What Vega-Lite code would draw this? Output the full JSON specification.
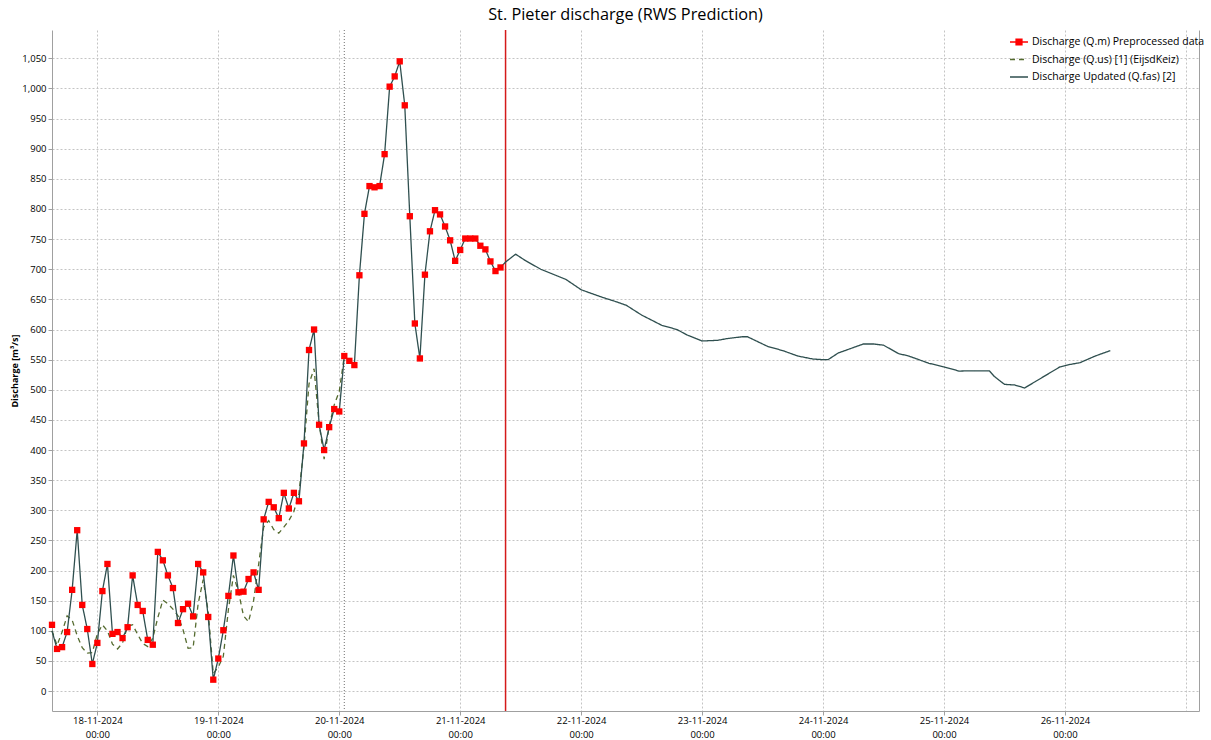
{
  "$schema": "https://vega.github.io/schema/vega-lite/v6.json",
  "width": 1147,
  "height": 681,
  "autosize": "none",
  "padding": {"left": 52, "top": 30, "right": 12, "bottom": 29},
  "background": "white",
  "title": {"text": "St. Pieter discharge (RWS Prediction)", "font": "Open Sans", "fontSize": 16.3, "fontWeight": "normal", "color": "#000000", "anchor": "middle", "frame": "group", "offset": 6},
  "config": {"view": {"stroke": null}},
  "resolve": {"axis": {"y": "independent"}},
  "datasets": {
    "qm": [
      {"t": "2024-11-17T15:00Z", "v": 110}, {"t": "2024-11-17T16:00Z", "v": 70}, {"t": "2024-11-17T17:00Z", "v": 73}, {"t": "2024-11-17T18:00Z", "v": 98}, {"t": "2024-11-17T19:00Z", "v": 168}, {"t": "2024-11-17T20:00Z", "v": 267}, {"t": "2024-11-17T21:00Z", "v": 143}, {"t": "2024-11-17T22:00Z", "v": 103}, {"t": "2024-11-17T23:00Z", "v": 45},
      {"t": "2024-11-18T00:00Z", "v": 80}, {"t": "2024-11-18T01:00Z", "v": 166}, {"t": "2024-11-18T02:00Z", "v": 211}, {"t": "2024-11-18T03:00Z", "v": 95}, {"t": "2024-11-18T04:00Z", "v": 98}, {"t": "2024-11-18T05:00Z", "v": 88}, {"t": "2024-11-18T06:00Z", "v": 106}, {"t": "2024-11-18T07:00Z", "v": 192}, {"t": "2024-11-18T08:00Z", "v": 143}, {"t": "2024-11-18T09:00Z", "v": 133}, {"t": "2024-11-18T10:00Z", "v": 85}, {"t": "2024-11-18T11:00Z", "v": 77}, {"t": "2024-11-18T12:00Z", "v": 231}, {"t": "2024-11-18T13:00Z", "v": 217}, {"t": "2024-11-18T14:00Z", "v": 192}, {"t": "2024-11-18T15:00Z", "v": 171}, {"t": "2024-11-18T16:00Z", "v": 113}, {"t": "2024-11-18T17:00Z", "v": 136}, {"t": "2024-11-18T18:00Z", "v": 145}, {"t": "2024-11-18T19:00Z", "v": 124}, {"t": "2024-11-18T20:00Z", "v": 211}, {"t": "2024-11-18T21:00Z", "v": 197}, {"t": "2024-11-18T22:00Z", "v": 123}, {"t": "2024-11-18T23:00Z", "v": 19},
      {"t": "2024-11-19T00:00Z", "v": 54}, {"t": "2024-11-19T01:00Z", "v": 101}, {"t": "2024-11-19T02:00Z", "v": 158}, {"t": "2024-11-19T03:00Z", "v": 225}, {"t": "2024-11-19T04:00Z", "v": 164}, {"t": "2024-11-19T05:00Z", "v": 165}, {"t": "2024-11-19T06:00Z", "v": 186}, {"t": "2024-11-19T07:00Z", "v": 197}, {"t": "2024-11-19T08:00Z", "v": 168}, {"t": "2024-11-19T09:00Z", "v": 285}, {"t": "2024-11-19T10:00Z", "v": 314}, {"t": "2024-11-19T11:00Z", "v": 305}, {"t": "2024-11-19T12:00Z", "v": 287}, {"t": "2024-11-19T13:00Z", "v": 329}, {"t": "2024-11-19T14:00Z", "v": 303}, {"t": "2024-11-19T15:00Z", "v": 329}, {"t": "2024-11-19T16:00Z", "v": 315}, {"t": "2024-11-19T17:00Z", "v": 411}, {"t": "2024-11-19T18:00Z", "v": 566}, {"t": "2024-11-19T19:00Z", "v": 600}, {"t": "2024-11-19T20:00Z", "v": 442}, {"t": "2024-11-19T21:00Z", "v": 400}, {"t": "2024-11-19T22:00Z", "v": 438}, {"t": "2024-11-19T23:00Z", "v": 468},
      {"t": "2024-11-20T00:00Z", "v": 464}, {"t": "2024-11-20T01:00Z", "v": 556}, {"t": "2024-11-20T02:00Z", "v": 548}, {"t": "2024-11-20T03:00Z", "v": 541}, {"t": "2024-11-20T04:00Z", "v": 690}, {"t": "2024-11-20T05:00Z", "v": 792}, {"t": "2024-11-20T06:00Z", "v": 838}, {"t": "2024-11-20T07:00Z", "v": 836}, {"t": "2024-11-20T08:00Z", "v": 838}, {"t": "2024-11-20T09:00Z", "v": 891}, {"t": "2024-11-20T10:00Z", "v": 1003}, {"t": "2024-11-20T11:00Z", "v": 1020}, {"t": "2024-11-20T12:00Z", "v": 1045}, {"t": "2024-11-20T13:00Z", "v": 972}, {"t": "2024-11-20T14:00Z", "v": 788}, {"t": "2024-11-20T15:00Z", "v": 610}, {"t": "2024-11-20T16:00Z", "v": 552}, {"t": "2024-11-20T17:00Z", "v": 691}, {"t": "2024-11-20T18:00Z", "v": 763}, {"t": "2024-11-20T19:00Z", "v": 798}, {"t": "2024-11-20T20:00Z", "v": 791}, {"t": "2024-11-20T21:00Z", "v": 771}, {"t": "2024-11-20T22:00Z", "v": 748}, {"t": "2024-11-20T23:00Z", "v": 714},
      {"t": "2024-11-21T00:00Z", "v": 732}, {"t": "2024-11-21T01:00Z", "v": 751}, {"t": "2024-11-21T02:00Z", "v": 751}, {"t": "2024-11-21T03:00Z", "v": 751}, {"t": "2024-11-21T04:00Z", "v": 739}, {"t": "2024-11-21T05:00Z", "v": 733}, {"t": "2024-11-21T06:00Z", "v": 713}, {"t": "2024-11-21T07:00Z", "v": 697}, {"t": "2024-11-21T08:00Z", "v": 703}
    ],
    "lines": [
      {"t": "2024-11-17T15:00Z", "s": "Q.us", "v": 100}, {"t": "2024-11-17T16:00Z", "s": "Q.us", "v": 76}, {"t": "2024-11-17T17:00Z", "s": "Q.us", "v": 98}, {"t": "2024-11-17T18:00Z", "s": "Q.us", "v": 125}, {"t": "2024-11-17T19:00Z", "s": "Q.us", "v": 118}, {"t": "2024-11-17T20:00Z", "s": "Q.us", "v": 92}, {"t": "2024-11-17T21:00Z", "s": "Q.us", "v": 72}, {"t": "2024-11-17T22:00Z", "s": "Q.us", "v": 63}, {"t": "2024-11-17T23:00Z", "s": "Q.us", "v": 64},
      {"t": "2024-11-18T00:00Z", "s": "Q.us", "v": 95}, {"t": "2024-11-18T01:00Z", "s": "Q.us", "v": 110}, {"t": "2024-11-18T02:00Z", "s": "Q.us", "v": 100}, {"t": "2024-11-18T03:00Z", "s": "Q.us", "v": 78}, {"t": "2024-11-18T04:00Z", "s": "Q.us", "v": 70}, {"t": "2024-11-18T05:00Z", "s": "Q.us", "v": 80}, {"t": "2024-11-18T06:00Z", "s": "Q.us", "v": 108}, {"t": "2024-11-18T07:00Z", "s": "Q.us", "v": 110}, {"t": "2024-11-18T08:00Z", "s": "Q.us", "v": 94}, {"t": "2024-11-18T09:00Z", "s": "Q.us", "v": 79}, {"t": "2024-11-18T10:00Z", "s": "Q.us", "v": 74}, {"t": "2024-11-18T11:00Z", "s": "Q.us", "v": 88}, {"t": "2024-11-18T12:00Z", "s": "Q.us", "v": 122}, {"t": "2024-11-18T13:00Z", "s": "Q.us", "v": 151}, {"t": "2024-11-18T14:00Z", "s": "Q.us", "v": 145}, {"t": "2024-11-18T15:00Z", "s": "Q.us", "v": 136}, {"t": "2024-11-18T16:00Z", "s": "Q.us", "v": 125}, {"t": "2024-11-18T17:00Z", "s": "Q.us", "v": 102}, {"t": "2024-11-18T18:00Z", "s": "Q.us", "v": 71}, {"t": "2024-11-18T19:00Z", "s": "Q.us", "v": 72}, {"t": "2024-11-18T20:00Z", "s": "Q.us", "v": 145}, {"t": "2024-11-18T21:00Z", "s": "Q.us", "v": 185}, {"t": "2024-11-18T22:00Z", "s": "Q.us", "v": 132}, {"t": "2024-11-18T23:00Z", "s": "Q.us", "v": 29},
      {"t": "2024-11-19T00:00Z", "s": "Q.us", "v": 40}, {"t": "2024-11-19T01:00Z", "s": "Q.us", "v": 58}, {"t": "2024-11-19T02:00Z", "s": "Q.us", "v": 135}, {"t": "2024-11-19T03:00Z", "s": "Q.us", "v": 192}, {"t": "2024-11-19T04:00Z", "s": "Q.us", "v": 165}, {"t": "2024-11-19T05:00Z", "s": "Q.us", "v": 125}, {"t": "2024-11-19T06:00Z", "s": "Q.us", "v": 115}, {"t": "2024-11-19T07:00Z", "s": "Q.us", "v": 150}, {"t": "2024-11-19T08:00Z", "s": "Q.us", "v": 210}, {"t": "2024-11-19T09:00Z", "s": "Q.us", "v": 272}, {"t": "2024-11-19T10:00Z", "s": "Q.us", "v": 283}, {"t": "2024-11-19T11:00Z", "s": "Q.us", "v": 268}, {"t": "2024-11-19T12:00Z", "s": "Q.us", "v": 262}, {"t": "2024-11-19T13:00Z", "s": "Q.us", "v": 272}, {"t": "2024-11-19T14:00Z", "s": "Q.us", "v": 283}, {"t": "2024-11-19T15:00Z", "s": "Q.us", "v": 298}, {"t": "2024-11-19T16:00Z", "s": "Q.us", "v": 328}, {"t": "2024-11-19T17:00Z", "s": "Q.us", "v": 405}, {"t": "2024-11-19T18:00Z", "s": "Q.us", "v": 510}, {"t": "2024-11-19T19:00Z", "s": "Q.us", "v": 535}, {"t": "2024-11-19T20:00Z", "s": "Q.us", "v": 445}, {"t": "2024-11-19T21:00Z", "s": "Q.us", "v": 385}, {"t": "2024-11-19T22:00Z", "s": "Q.us", "v": 440}, {"t": "2024-11-19T23:00Z", "s": "Q.us", "v": 475},
      {"t": "2024-11-20T00:00Z", "s": "Q.us", "v": 497}, {"t": "2024-11-20T01:00Z", "s": "Q.us", "v": 556},
      {"t": "2024-11-17T15:00Z", "s": "Q.fas", "v": 100}, {"t": "2024-11-17T16:00Z", "s": "Q.fas", "v": 70}, {"t": "2024-11-17T17:00Z", "s": "Q.fas", "v": 73}, {"t": "2024-11-17T18:00Z", "s": "Q.fas", "v": 98}, {"t": "2024-11-17T19:00Z", "s": "Q.fas", "v": 168}, {"t": "2024-11-17T20:00Z", "s": "Q.fas", "v": 267}, {"t": "2024-11-17T21:00Z", "s": "Q.fas", "v": 143}, {"t": "2024-11-17T22:00Z", "s": "Q.fas", "v": 103}, {"t": "2024-11-17T23:00Z", "s": "Q.fas", "v": 45},
      {"t": "2024-11-18T00:00Z", "s": "Q.fas", "v": 80}, {"t": "2024-11-18T01:00Z", "s": "Q.fas", "v": 166}, {"t": "2024-11-18T02:00Z", "s": "Q.fas", "v": 211}, {"t": "2024-11-18T03:00Z", "s": "Q.fas", "v": 95}, {"t": "2024-11-18T04:00Z", "s": "Q.fas", "v": 98}, {"t": "2024-11-18T05:00Z", "s": "Q.fas", "v": 88}, {"t": "2024-11-18T06:00Z", "s": "Q.fas", "v": 106}, {"t": "2024-11-18T07:00Z", "s": "Q.fas", "v": 192}, {"t": "2024-11-18T08:00Z", "s": "Q.fas", "v": 143}, {"t": "2024-11-18T09:00Z", "s": "Q.fas", "v": 133}, {"t": "2024-11-18T10:00Z", "s": "Q.fas", "v": 85}, {"t": "2024-11-18T11:00Z", "s": "Q.fas", "v": 77}, {"t": "2024-11-18T12:00Z", "s": "Q.fas", "v": 231}, {"t": "2024-11-18T13:00Z", "s": "Q.fas", "v": 217}, {"t": "2024-11-18T14:00Z", "s": "Q.fas", "v": 192}, {"t": "2024-11-18T15:00Z", "s": "Q.fas", "v": 171}, {"t": "2024-11-18T16:00Z", "s": "Q.fas", "v": 113}, {"t": "2024-11-18T17:00Z", "s": "Q.fas", "v": 136}, {"t": "2024-11-18T18:00Z", "s": "Q.fas", "v": 145}, {"t": "2024-11-18T19:00Z", "s": "Q.fas", "v": 124}, {"t": "2024-11-18T20:00Z", "s": "Q.fas", "v": 211}, {"t": "2024-11-18T21:00Z", "s": "Q.fas", "v": 197}, {"t": "2024-11-18T22:00Z", "s": "Q.fas", "v": 123}, {"t": "2024-11-18T23:00Z", "s": "Q.fas", "v": 19},
      {"t": "2024-11-19T00:00Z", "s": "Q.fas", "v": 54}, {"t": "2024-11-19T01:00Z", "s": "Q.fas", "v": 101}, {"t": "2024-11-19T02:00Z", "s": "Q.fas", "v": 158}, {"t": "2024-11-19T03:00Z", "s": "Q.fas", "v": 225}, {"t": "2024-11-19T04:00Z", "s": "Q.fas", "v": 164}, {"t": "2024-11-19T05:00Z", "s": "Q.fas", "v": 165}, {"t": "2024-11-19T06:00Z", "s": "Q.fas", "v": 186}, {"t": "2024-11-19T07:00Z", "s": "Q.fas", "v": 197}, {"t": "2024-11-19T08:00Z", "s": "Q.fas", "v": 168}, {"t": "2024-11-19T09:00Z", "s": "Q.fas", "v": 285}, {"t": "2024-11-19T10:00Z", "s": "Q.fas", "v": 314}, {"t": "2024-11-19T11:00Z", "s": "Q.fas", "v": 305}, {"t": "2024-11-19T12:00Z", "s": "Q.fas", "v": 287}, {"t": "2024-11-19T13:00Z", "s": "Q.fas", "v": 329}, {"t": "2024-11-19T14:00Z", "s": "Q.fas", "v": 303}, {"t": "2024-11-19T15:00Z", "s": "Q.fas", "v": 329}, {"t": "2024-11-19T16:00Z", "s": "Q.fas", "v": 315}, {"t": "2024-11-19T17:00Z", "s": "Q.fas", "v": 411}, {"t": "2024-11-19T18:00Z", "s": "Q.fas", "v": 566}, {"t": "2024-11-19T19:00Z", "s": "Q.fas", "v": 600}, {"t": "2024-11-19T20:00Z", "s": "Q.fas", "v": 442}, {"t": "2024-11-19T21:00Z", "s": "Q.fas", "v": 400}, {"t": "2024-11-19T22:00Z", "s": "Q.fas", "v": 438}, {"t": "2024-11-19T23:00Z", "s": "Q.fas", "v": 468},
      {"t": "2024-11-20T00:00Z", "s": "Q.fas", "v": 464}, {"t": "2024-11-20T01:00Z", "s": "Q.fas", "v": 556}, {"t": "2024-11-20T02:00Z", "s": "Q.fas", "v": 548}, {"t": "2024-11-20T03:00Z", "s": "Q.fas", "v": 541}, {"t": "2024-11-20T04:00Z", "s": "Q.fas", "v": 690}, {"t": "2024-11-20T05:00Z", "s": "Q.fas", "v": 792}, {"t": "2024-11-20T06:00Z", "s": "Q.fas", "v": 838}, {"t": "2024-11-20T07:00Z", "s": "Q.fas", "v": 836}, {"t": "2024-11-20T08:00Z", "s": "Q.fas", "v": 838}, {"t": "2024-11-20T09:00Z", "s": "Q.fas", "v": 891}, {"t": "2024-11-20T10:00Z", "s": "Q.fas", "v": 1003}, {"t": "2024-11-20T11:00Z", "s": "Q.fas", "v": 1020}, {"t": "2024-11-20T12:00Z", "s": "Q.fas", "v": 1045}, {"t": "2024-11-20T13:00Z", "s": "Q.fas", "v": 972}, {"t": "2024-11-20T14:00Z", "s": "Q.fas", "v": 788}, {"t": "2024-11-20T15:00Z", "s": "Q.fas", "v": 610}, {"t": "2024-11-20T16:00Z", "s": "Q.fas", "v": 552}, {"t": "2024-11-20T17:00Z", "s": "Q.fas", "v": 691}, {"t": "2024-11-20T18:00Z", "s": "Q.fas", "v": 763}, {"t": "2024-11-20T19:00Z", "s": "Q.fas", "v": 798}, {"t": "2024-11-20T20:00Z", "s": "Q.fas", "v": 791}, {"t": "2024-11-20T21:00Z", "s": "Q.fas", "v": 771}, {"t": "2024-11-20T22:00Z", "s": "Q.fas", "v": 748}, {"t": "2024-11-20T23:00Z", "s": "Q.fas", "v": 714},
      {"t": "2024-11-21T00:00Z", "s": "Q.fas", "v": 732}, {"t": "2024-11-21T01:00Z", "s": "Q.fas", "v": 751}, {"t": "2024-11-21T02:00Z", "s": "Q.fas", "v": 751}, {"t": "2024-11-21T03:00Z", "s": "Q.fas", "v": 751}, {"t": "2024-11-21T04:00Z", "s": "Q.fas", "v": 739}, {"t": "2024-11-21T05:00Z", "s": "Q.fas", "v": 733}, {"t": "2024-11-21T06:00Z", "s": "Q.fas", "v": 713}, {"t": "2024-11-21T07:00Z", "s": "Q.fas", "v": 697}, {"t": "2024-11-21T08:00Z", "s": "Q.fas", "v": 703},
      {"t": "2024-11-21T09:00Z", "s": "Q.fas", "v": 712}, {"t": "2024-11-21T11:00Z", "s": "Q.fas", "v": 725}, {"t": "2024-11-21T13:00Z", "s": "Q.fas", "v": 714}, {"t": "2024-11-21T16:00Z", "s": "Q.fas", "v": 700}, {"t": "2024-11-21T21:00Z", "s": "Q.fas", "v": 683},
      {"t": "2024-11-22T00:00Z", "s": "Q.fas", "v": 666}, {"t": "2024-11-22T04:00Z", "s": "Q.fas", "v": 654}, {"t": "2024-11-22T07:00Z", "s": "Q.fas", "v": 646}, {"t": "2024-11-22T09:00Z", "s": "Q.fas", "v": 640}, {"t": "2024-11-22T12:00Z", "s": "Q.fas", "v": 624}, {"t": "2024-11-22T16:00Z", "s": "Q.fas", "v": 607}, {"t": "2024-11-22T19:00Z", "s": "Q.fas", "v": 600}, {"t": "2024-11-22T21:00Z", "s": "Q.fas", "v": 591},
      {"t": "2024-11-23T00:00Z", "s": "Q.fas", "v": 581}, {"t": "2024-11-23T03:00Z", "s": "Q.fas", "v": 582}, {"t": "2024-11-23T05:00Z", "s": "Q.fas", "v": 585}, {"t": "2024-11-23T08:00Z", "s": "Q.fas", "v": 588}, {"t": "2024-11-23T09:00Z", "s": "Q.fas", "v": 588}, {"t": "2024-11-23T10:00Z", "s": "Q.fas", "v": 584}, {"t": "2024-11-23T13:00Z", "s": "Q.fas", "v": 572}, {"t": "2024-11-23T16:00Z", "s": "Q.fas", "v": 565}, {"t": "2024-11-23T19:00Z", "s": "Q.fas", "v": 556}, {"t": "2024-11-23T22:00Z", "s": "Q.fas", "v": 551},
      {"t": "2024-11-24T00:00Z", "s": "Q.fas", "v": 550}, {"t": "2024-11-24T01:00Z", "s": "Q.fas", "v": 550}, {"t": "2024-11-24T03:00Z", "s": "Q.fas", "v": 561}, {"t": "2024-11-24T08:00Z", "s": "Q.fas", "v": 576}, {"t": "2024-11-24T10:00Z", "s": "Q.fas", "v": 576}, {"t": "2024-11-24T12:00Z", "s": "Q.fas", "v": 574}, {"t": "2024-11-24T15:00Z", "s": "Q.fas", "v": 560}, {"t": "2024-11-24T17:00Z", "s": "Q.fas", "v": 556}, {"t": "2024-11-24T21:00Z", "s": "Q.fas", "v": 544},
      {"t": "2024-11-25T00:00Z", "s": "Q.fas", "v": 538}, {"t": "2024-11-25T03:00Z", "s": "Q.fas", "v": 531}, {"t": "2024-11-25T05:00Z", "s": "Q.fas", "v": 531.5}, {"t": "2024-11-25T09:00Z", "s": "Q.fas", "v": 531.5}, {"t": "2024-11-25T10:00Z", "s": "Q.fas", "v": 522}, {"t": "2024-11-25T12:00Z", "s": "Q.fas", "v": 509}, {"t": "2024-11-25T14:00Z", "s": "Q.fas", "v": 508}, {"t": "2024-11-25T16:00Z", "s": "Q.fas", "v": 503}, {"t": "2024-11-25T18:00Z", "s": "Q.fas", "v": 513}, {"t": "2024-11-25T21:00Z", "s": "Q.fas", "v": 528}, {"t": "2024-11-25T23:00Z", "s": "Q.fas", "v": 538},
      {"t": "2024-11-26T01:00Z", "s": "Q.fas", "v": 542}, {"t": "2024-11-26T03:00Z", "s": "Q.fas", "v": 545}, {"t": "2024-11-26T06:00Z", "s": "Q.fas", "v": 556}, {"t": "2024-11-26T09:00Z", "s": "Q.fas", "v": 565}
    ]
  },
  "encoding": {
    "x": {
      "field": "t", "type": "temporal", "title": null,
      "scale": {"type": "utc", "domain": [{"year": 2024, "month": 11, "date": 17, "hours": 15, "utc": true}, {"year": 2024, "month": 11, "date": 27, "hours": 2, "minutes": 36, "utc": true}]},
      "axis": {
        "values": [
          {"year": 2024, "month": 11, "date": 18, "utc": true}, {"year": 2024, "month": 11, "date": 19, "utc": true}, {"year": 2024, "month": 11, "date": 20, "utc": true}, {"year": 2024, "month": 11, "date": 21, "utc": true}, {"year": 2024, "month": 11, "date": 22, "utc": true}, {"year": 2024, "month": 11, "date": 23, "utc": true}, {"year": 2024, "month": 11, "date": 24, "utc": true}, {"year": 2024, "month": 11, "date": 25, "utc": true}, {"year": 2024, "month": 11, "date": 26, "utc": true}, {"year": 2024, "month": 11, "date": 27, "utc": true}
        ],
        "labelExpr": "utcdate(datum.value) == 27 ? '' : [utcFormat(datum.value, '%d-%m-%Y'), utcFormat(datum.value, '%H:%M')]",
        "labelFont": "Open Sans", "labelFontSize": 9.5, "labelColor": "#000000", "labelLineHeight": 14, "labelPadding": 0,
        "tickSize": 4, "tickColor": "#a0a0a0", "tickOpacity": {"condition": {"test": "utcdate(datum.value) == 27", "value": 0}, "value": 1},
        "domainColor": "#a0a0a0", "gridColor": "#c4c4c4", "gridDash": [2, 2], "gridWidth": 1, "labelFlush": false, "labelOverlap": false
      }
    }
  },
  "layer": [
    {
      "data": {"values": [{"t": "2024-11-20T01:00Z"}]},
      "mark": {"type": "rule", "color": "#707070", "strokeDash": [1, 2], "strokeWidth": 1},
      "encoding": {}
    },
    {
      "data": {"values": [{"t": "2024-11-21T09:00Z"}]},
      "mark": {"type": "rule", "color": "#d41a1a", "strokeWidth": 1.5},
      "encoding": {}
    },
    {
      "data": {"name": "lines"},
      "mark": {"type": "line", "strokeWidth": 1.3},
      "encoding": {
        "y": {
          "field": "v", "type": "quantitative", "title": "Discharge [m³/s]",
          "scale": {"domain": [-33, 1097], "nice": false, "zero": false},
          "axis": {
            "values": [0, 50, 100, 150, 200, 250, 300, 350, 400, 450, 500, 550, 600, 650, 700, 750, 800, 850, 900, 950, 1000, 1050],
            "format": ",d", "labelFont": "Open Sans", "labelFontSize": 9.5, "labelColor": "#000000", "labelPadding": 2,
            "tickSize": 4, "tickColor": "#a0a0a0", "domainColor": "#a0a0a0",
            "gridColor": "#c4c4c4", "gridDash": [2, 2], "gridWidth": 1,
            "titleFont": "Open Sans", "titleFontSize": 9, "titleFontWeight": "bold", "titleColor": "#000000", "titlePadding": 2
          }
        },
        "color": {
          "field": "s", "type": "nominal",
          "scale": {"domain": ["Q.m", "Q.us", "Q.fas"], "range": ["#ff0000", "#556b2f", "#2f4f4f"]},
          "legend": {
            "title": null, "orient": "none", "legendX": 957, "legendY": 2,
            "symbolType": "stroke", "symbolSize": 324, "symbolStrokeWidth": 1.3,
            "labelFont": "Open Sans", "labelFontSize": 10.5, "labelColor": "#000000", "labelLimit": 300, "labelOffset": 3, "rowPadding": 1.5,
            "labelExpr": "datum.label == 'Q.m' ? 'Discharge (Q.m) Preprocessed data' : (datum.label == 'Q.us' ? 'Discharge (Q.us) [1] (EijsdKeiz)' : 'Discharge Updated (Q.fas) [2]')",
            "encode": {"symbols": {"update": {
              "shape": {"signal": "datum.value == 'Q.m' ? 'M-1,0H1M-0.33,-0.33H0.33V0.33H-0.33Z' : 'M-1,0H1'"},
              "fill": {"signal": "datum.value == 'Q.m' ? '#ff0000' : 'transparent'"}
            }}}
          }
        },
        "strokeDash": {
          "field": "s", "type": "nominal",
          "scale": {"domain": ["Q.m", "Q.us", "Q.fas"], "range": [[1, 0], [5, 4], [1, 0]]},
          "legend": {
            "title": null, "orient": "none", "legendX": 957, "legendY": 2,
            "symbolType": "stroke", "symbolSize": 324, "symbolStrokeWidth": 1.3,
            "labelFont": "Open Sans", "labelFontSize": 10.5, "labelColor": "#000000", "labelLimit": 300, "labelOffset": 3, "rowPadding": 1.5,
            "labelExpr": "datum.label == 'Q.m' ? 'Discharge (Q.m) Preprocessed data' : (datum.label == 'Q.us' ? 'Discharge (Q.us) [1] (EijsdKeiz)' : 'Discharge Updated (Q.fas) [2]')",
            "encode": {"symbols": {"update": {
              "shape": {"signal": "datum.value == 'Q.m' ? 'M-1,0H1M-0.33,-0.33H0.33V0.33H-0.33Z' : 'M-1,0H1'"},
              "fill": {"signal": "datum.value == 'Q.m' ? '#ff0000' : 'transparent'"}
            }}}
          }
        }
      }
    },
    {
      "data": {"name": "qm"},
      "mark": {"type": "square", "size": 40, "filled": true, "color": "#ff0000", "opacity": 1},
      "encoding": {
        "y": {
          "field": "v", "type": "quantitative", "title": null,
          "scale": {"domain": [-33, 1097], "nice": false, "zero": false},
          "axis": {"orient": "right", "labels": false, "ticks": false, "grid": false, "domain": true, "domainColor": "#a0a0a0", "title": null}
        }
      }
    }
  ]
}
